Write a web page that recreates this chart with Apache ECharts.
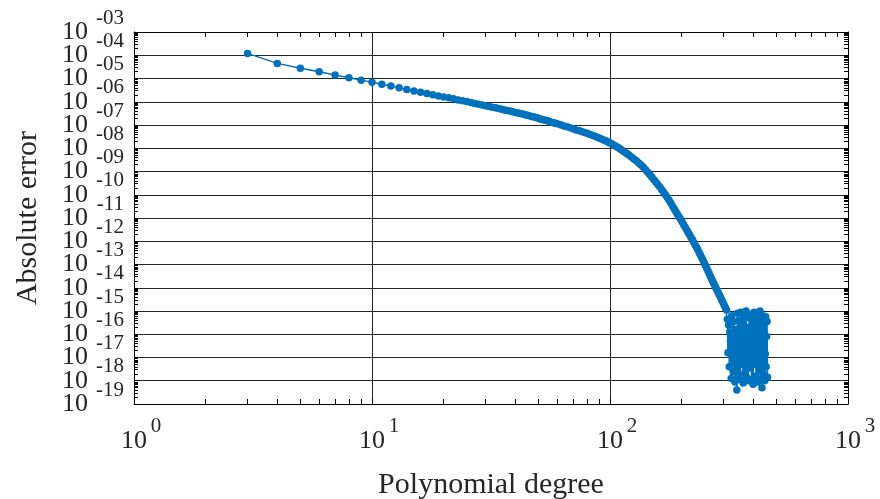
<!DOCTYPE html>
<html>
<head>
<meta charset="utf-8">
<script src="https://cdn.jsdelivr.net/npm/echarts@6/dist/echarts.min.js"></script>
<style>
html, body { margin: 0; padding: 0; background: #fff; }
#chart { width: 880px; height: 499px; }
</style>
</head>
<body>
<div id="chart"></div>
<script>
// polynomial degree
var degree = [
  3, 4, 5, 6, 7, 8, 9, 10, 11, 12, 13, 14, 15, 16, 17, 18, 19, 20,
  21, 22, 23, 24, 25, 26, 27, 28, 29, 30, 31, 32, 33, 34, 35, 36, 37, 38, 39, 40,
  41, 42, 43, 44, 45, 46, 47, 48, 49, 50, 51, 52, 53, 54, 55, 56, 57, 58, 59, 60,
  62, 64, 66, 68, 70, 72, 74, 76, 78, 80, 82, 84, 86, 88, 90, 92, 94, 96, 98, 100,
  102, 104, 106, 108, 110, 112, 114, 116, 118, 120,
  123, 126, 129, 132, 135, 138, 141, 144, 147, 150, 153, 156, 159, 162, 165, 168, 171, 174, 177, 180,
  183, 186, 189, 192, 195, 198, 201, 204, 207, 210, 213, 216, 219, 222, 225, 228, 231, 234, 237, 240,
  243, 246, 249, 252, 255, 258, 261, 264, 267, 270, 273, 276, 279, 282, 285, 288, 291, 294, 297, 300,
  303, 306, 309,
  311, 313, 315, 317, 319, 321, 323, 325, 327, 329, 331, 333, 335, 337, 339, 341, 343, 345, 347, 349,
  351, 353, 355, 357, 359, 361, 363, 365, 367, 369, 371, 373, 375, 377, 379, 381, 383, 385, 387, 389,
  391, 393, 395, 397, 399, 401, 403, 405, 407, 409, 411, 413, 415, 417, 419, 421, 423, 425, 427, 429,
  431, 433, 435, 437, 439, 441, 443, 445, 447, 449, 451, 453, 455, 457, 459
];
// log10 of the absolute error at each degree
var errExp = [
  -3.92, -4.35, -4.56, -4.71, -4.85, -4.97, -5.07, -5.16, -5.25, -5.32, -5.40, -5.47, -5.54, -5.59, -5.64, -5.70, -5.75, -5.80,
  -5.83, -5.87, -5.92, -5.96, -5.99, -6.03, -6.07, -6.11, -6.14, -6.17, -6.20, -6.24, -6.26, -6.29, -6.32, -6.35, -6.38, -6.40, -6.43, -6.46,
  -6.48, -6.51, -6.53, -6.56, -6.58, -6.61, -6.63, -6.66, -6.68, -6.71, -6.74, -6.76, -6.78, -6.81, -6.83, -6.86, -6.89, -6.90, -6.93, -6.95,
  -6.99, -7.04, -7.08, -7.12, -7.16, -7.21, -7.24, -7.28, -7.32, -7.36, -7.40, -7.44, -7.47, -7.52, -7.56, -7.60, -7.64, -7.68, -7.73, -7.77,
  -7.82, -7.87, -7.91, -7.97, -8.02, -8.07, -8.13, -8.18, -8.24, -8.29,
  -8.38, -8.46, -8.54, -8.63, -8.72, -8.82, -8.92, -9.03, -9.14, -9.25, -9.35, -9.46, -9.57, -9.67, -9.78, -9.89, -10.00, -10.12, -10.24, -10.36,
  -10.48, -10.60, -10.72, -10.84, -10.95, -11.05, -11.17, -11.29, -11.40, -11.52, -11.62, -11.72, -11.84, -11.94, -12.05, -12.16, -12.26, -12.37, -12.49, -12.60,
  -12.71, -12.82, -12.94, -13.05, -13.16, -13.27, -13.39, -13.50, -13.61, -13.72, -13.82, -13.92, -14.02, -14.12, -14.21, -14.31, -14.40, -14.50, -14.59, -14.69,
  -14.78, -14.88, -14.96,
  -15.35, -16.80, -15.60, -17.40, -15.90, -16.30, -17.90, -15.20, -16.95, -17.60, -15.45, -16.10, -18.05, -15.80, -17.20, -18.40, -15.10, -16.60, -17.75, -15.40,
  -16.25, -17.95, -15.05, -16.70, -17.30, -15.55, -18.10, -16.05, -15.25, -17.65, -16.45, -15.00, -17.85, -16.90, -15.70, -18.00, -16.20, -15.30, -17.45, -16.55,
  -15.15, -17.95, -16.35, -15.50, -18.15, -16.80, -15.05, -17.30, -16.00, -15.35, -17.80, -16.65, -15.10, -18.05, -16.40, -15.60, -17.55, -16.15, -15.00, -17.90,
  -16.75, -15.40, -18.30, -16.30, -15.20, -17.70, -16.50, -15.55, -18.00, -16.85, -15.25, -17.40, -16.10, -15.45, -17.85
];
// decades shown on the axes
var xExponents = [0, 1, 2, 3];
var yExponents = [-19, -18, -17, -16, -15, -14, -13, -12, -11, -10, -9, -8, -7, -6, -5, -4, -3];

var BLUE = '#0072BD';
var INK = '#262626';
var FONT = '"Liberation Serif", "DejaVu Serif", serif';

function p10(e) { return Math.pow(10, e); }

// 1..9 x decade tick positions
function logTicks(exps) {
  var out = [];
  for (var i = 0; i < exps.length - 1; i++) {
    for (var k = 1; k <= 9; k++) out.push(k * p10(exps[i]));
  }
  out.push(p10(exps[exps.length - 1]));
  return out;
}
var xTicks = logTicks(xExponents);
var yTicks = logTicks(yExponents);

function expOf(v) { return Math.round(Math.log10(v)); }
function isDecade(v) { return Math.abs(Math.log10(v) - expOf(v)) < 1e-6; }
function yExpText(v) {
  if (!isDecade(v)) return '';
  var e = expOf(v);
  return (e < 0 ? '-' : '') + String(Math.abs(e)).padStart(2, '0');
}
// "10" on every other decade per axis, so neighbouring labels never collide
function tenOdd(v) { return isDecade(v) && Math.abs(expOf(v)) % 2 === 1 ? '10' : ''; }
function tenEven(v) { return isDecade(v) && Math.abs(expOf(v)) % 2 === 0 ? '10' : ''; }

var seriesData = degree.map(function (n, i) { return [n, p10(errExp[i])]; });

var xBase = { type: 'log', logBase: 10, min: p10(xExponents[0]), max: p10(xExponents[xExponents.length - 1]), interval: 1 };
var yBase = { type: 'log', logBase: 10, min: p10(yExponents[0]), max: p10(yExponents[yExponents.length - 1]), interval: 1 };
function ext(a, b) { return Object.assign({}, a, b); }
var hidden = { axisLine: { show: false }, axisTick: { show: false }, axisLabel: { show: false }, splitLine: { show: false } };
var tenLabel = { margin: 46, showMinLabel: true, showMaxLabel: true, fontFamily: FONT, fontSize: 26, color: INK, hideOverlap: false };

var chart = echarts.init(document.getElementById('chart'));
var frame = { lineStyle: { color: '#000', width: 1 } };
var fixedRect = { outerBoundsMode: 'none', containLabel: false };
var plotRect = ext(fixedRect, { left: 134, right: 32, top: 32, bottom: 95 });

var option = {
  animation: false,
  backgroundColor: '#fff',
  grid: [
    ext(plotRect, {}),                                                  // data, grid lines, odd "10" labels
    ext(plotRect, {}),                                                  // box and ticks
    ext(fixedRect, { left: 156, right: 10, top: 18, bottom: 109 }),     // exponents, shifted up / right
    ext(plotRect, {})                                                   // even "10" labels
  ],
  xAxis: [
    ext(xBase, {
      gridIndex: 0, position: 'bottom',
      name: 'Polynomial degree', nameLocation: 'middle', nameGap: 66, nameMoveOverlap: false,
      nameTextStyle: { fontFamily: FONT, fontSize: 30, color: INK },
      axisLine: { show: false }, axisTick: { show: false },
      axisLabel: { formatter: function () { return '10'; }, margin: 24, showMinLabel: true, showMaxLabel: true,
        fontFamily: FONT, fontSize: 26, color: INK, hideOverlap: false },
      splitLine: { show: true, lineStyle: { color: INK, width: 1 } }
    }),
    ext(xBase, ext(hidden, {
      gridIndex: 1, position: 'bottom', axisLine: frame,
      axisTick: { inside: true, length: 5, customValues: xTicks, lineStyle: { color: '#000' } }
    })),
    ext(xBase, ext(hidden, {
      gridIndex: 1, position: 'top', axisLine: frame,
      axisTick: { inside: true, length: 5, customValues: xTicks, lineStyle: { color: '#000' } }
    })),
    ext(xBase, ext(hidden, {
      gridIndex: 2, position: 'bottom',
      axisLabel: { formatter: function (v) { return String(expOf(v)); }, margin: 26,
        showMinLabel: true, showMaxLabel: true, fontFamily: FONT, fontSize: 21, color: INK, hideOverlap: false }
    })),
    ext(xBase, ext(hidden, { gridIndex: 3, position: 'bottom' }))
  ],
  yAxis: [
    ext(yBase, {
      gridIndex: 0, position: 'left',
      name: 'Absolute error', nameLocation: 'middle', nameGap: 91, nameRotate: 90, nameMoveOverlap: false,
      nameTextStyle: { fontFamily: FONT, fontSize: 30, color: INK },
      axisLine: { show: false }, axisTick: { show: false },
      axisLabel: ext(tenLabel, { formatter: tenOdd }),
      splitLine: { show: true, lineStyle: { color: INK, width: 1 } }
    }),
    ext(yBase, ext(hidden, {
      gridIndex: 1, position: 'left', axisLine: frame,
      axisTick: { inside: true, length: 4, customValues: yTicks, lineStyle: { color: '#000' } }
    })),
    ext(yBase, ext(hidden, {
      gridIndex: 1, position: 'right', axisLine: frame,
      axisTick: { inside: true, length: 4, customValues: yTicks, lineStyle: { color: '#000' } }
    })),
    ext(yBase, ext(hidden, {
      gridIndex: 2, position: 'left',
      axisLabel: { formatter: yExpText, margin: 32, lineHeight: 19,
        showMinLabel: true, showMaxLabel: true, fontFamily: FONT, fontSize: 21, color: INK, hideOverlap: false }
    })),
    ext(yBase, ext(hidden, {
      gridIndex: 3, position: 'left',
      axisLabel: ext(tenLabel, { formatter: tenEven })
    }))
  ],
  series: [{
    type: 'line',
    xAxisIndex: 0,
    yAxisIndex: 0,
    data: seriesData,
    symbol: 'circle',
    symbolSize: 7.5,
    lineStyle: { color: BLUE, width: 1.5 },
    itemStyle: { color: BLUE },
    z: 5
  }]
};
chart.setOption(option);
</script>
</body>
</html>
